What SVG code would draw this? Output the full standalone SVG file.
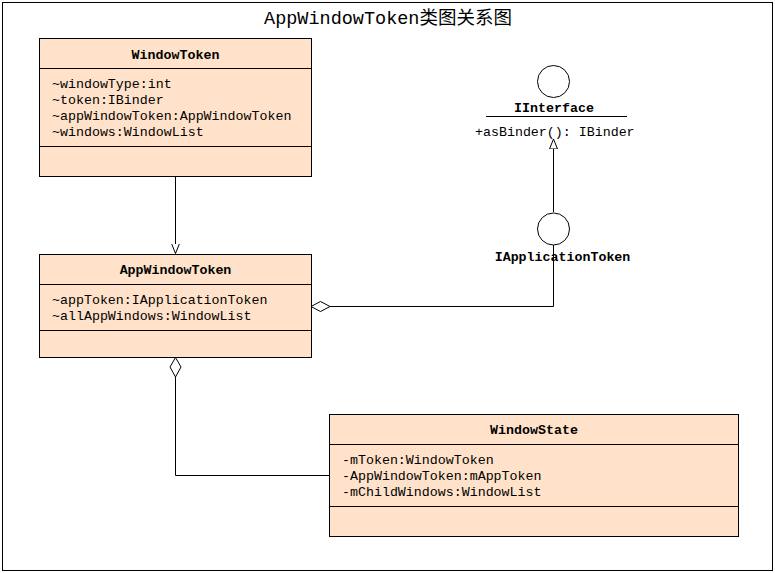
<svg xmlns="http://www.w3.org/2000/svg" width="775" height="573" viewBox="0 0 775 573">
<style>
.box{fill:#FFE2C9;stroke:#000;stroke-width:1}
.sep{stroke:#000;stroke-width:1}
.t{font-family:"Liberation Mono","Noto Sans CJK SC",monospace;font-size:13.3px;fill:#000}
.b{font-weight:bold}
.c{text-anchor:middle}
.ln{fill:none;stroke:#000;stroke-width:1}
.hollow{fill:#fff;stroke:#000;stroke-width:1}
</style>
<defs>
<marker id="gen" markerWidth="12" markerHeight="12" refX="10" refY="5" orient="auto" markerUnits="userSpaceOnUse">
<path d="M0,1 L10,5 L0,9 Z" class="hollow"/>
</marker>
</defs>
<rect x="0" y="0" width="775" height="573" fill="#fff"/>
<rect x="2.5" y="2.5" width="770" height="568" fill="none" stroke="#000" stroke-width="1"/>
<text class="t c" x="388" y="24" style="font-size:18.5px">AppWindowToken类图关系图</text>

<g id="connectors">
<path class="ln" d="M175.5,176 V253.5" marker-end="url(#gen)"/>
<path class="ln" d="M553.5,212 V139" marker-end="url(#gen)"/>
<path class="ln" d="M330,306.5 H553.5 V245"/>
<path class="hollow" d="M311,306.5 L320.5,301.5 L330,306.5 L320.5,311.5 Z"/>
<path class="ln" d="M175.5,377 V475.5 H329"/>
<path class="hollow" d="M175.5,357.5 L181,367 L175.5,377 L170,367 Z"/>
</g>

<g id="WindowToken">
<rect class="box" x="39.5" y="38.5" width="272" height="138"/>
<line class="sep" x1="39.5" y1="68.5" x2="311.5" y2="68.5"/>
<line class="sep" x1="39.5" y1="146.5" x2="311.5" y2="146.5"/>
<text class="t b c" x="175.5" y="58.5">WindowToken</text>
<text class="t" x="52" y="88">~windowType:int</text>
<text class="t" x="52" y="104">~token:IBinder</text>
<text class="t" x="52" y="120">~appWindowToken:AppWindowToken</text>
<text class="t" x="52" y="136">~windows:WindowList</text>
</g>

<g id="AppWindowToken">
<rect class="box" x="39.5" y="254.5" width="272" height="103"/>
<line class="sep" x1="39.5" y1="284.5" x2="311.5" y2="284.5"/>
<line class="sep" x1="39.5" y1="330.5" x2="311.5" y2="330.5"/>
<text class="t b c" x="175.5" y="273.5">AppWindowToken</text>
<text class="t" x="52" y="303.5">~appToken:IApplicationToken</text>
<text class="t" x="52" y="319.5">~allAppWindows:WindowList</text>
</g>

<g id="IInterface">
<circle cx="553.5" cy="81.5" r="16" fill="#fff" stroke="#000"/>
<text class="t b c" x="554" y="111.5">IInterface</text>
<line class="sep" x1="486" y1="116.5" x2="627" y2="116.5"/>
<text class="t" x="475" y="136">+asBinder(): IBinder</text>
</g>

<g id="IApplicationToken">
<circle cx="553.5" cy="229" r="16" fill="#fff" stroke="#000"/>
<text class="t b c" x="562.5" y="261">IApplicationToken</text>
</g>

<g id="WindowState">
<rect class="box" x="329.5" y="414.5" width="409" height="122"/>
<line class="sep" x1="329.5" y1="444.5" x2="738.5" y2="444.5"/>
<line class="sep" x1="329.5" y1="506.5" x2="738.5" y2="506.5"/>
<text class="t b c" x="534" y="433.5">WindowState</text>
<text class="t" x="342" y="463.5">-mToken:WindowToken</text>
<text class="t" x="342" y="479.5">-AppWindowToken:mAppToken</text>
<text class="t" x="342" y="495.5">-mChildWindows:WindowList</text>
</g>
</svg>
